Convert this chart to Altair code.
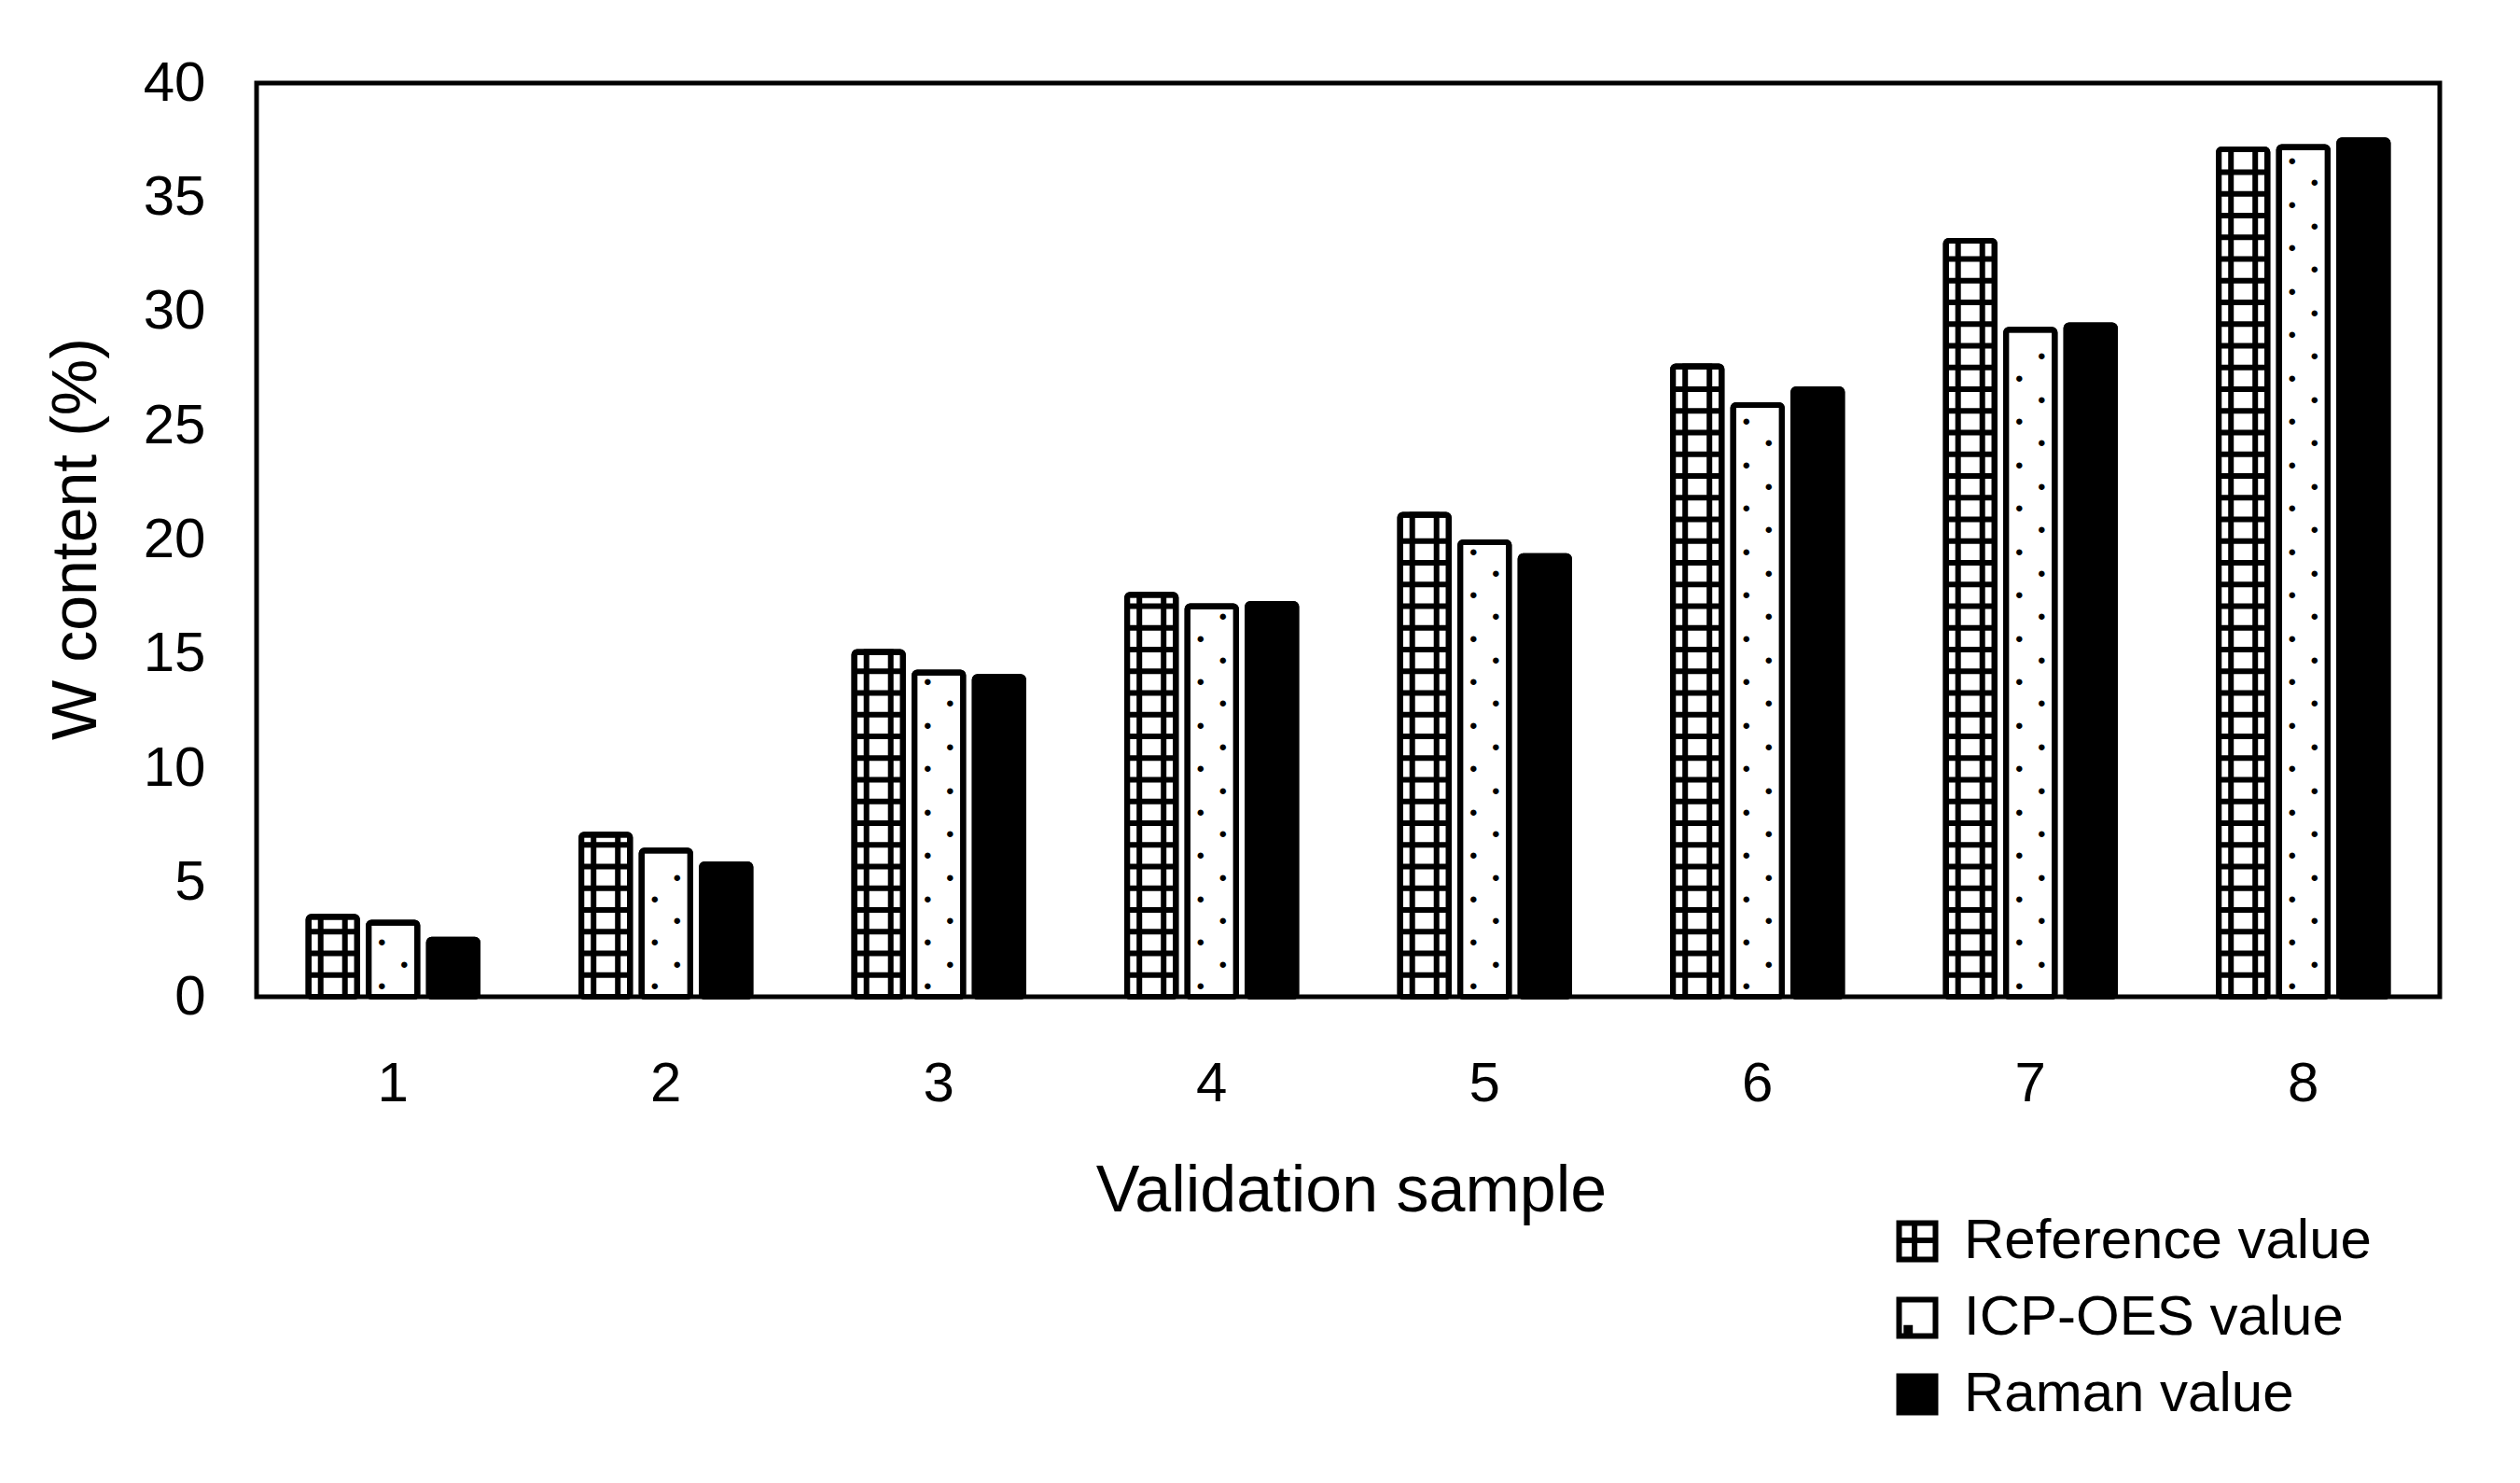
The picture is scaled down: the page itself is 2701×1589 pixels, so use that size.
import altair as alt
import numpy as np
import pandas as pd

samples = ["1", "2", "3", "4", "5", "6", "7", "8"]
series = ["Reference value", "ICP-OES value", "Raman value"]
reference = [3.5, 7.1, 15.1, 17.6, 21.1, 27.6, 33.1, 37.1]
icp_oes = [3.25, 6.4, 14.2, 17.1, 19.9, 25.9, 29.2, 37.2]
raman = [2.5, 5.8, 14.0, 17.2, 19.3, 26.6, 29.4, 37.5]
y_ticks = [0, 5, 10, 15, 20, 25, 30, 35, 40]

rows = []
for s, a, b, c in zip(samples, reference, icp_oes, raman):
    rows.append({"sample": s, "series": series[0], "value": a})
    rows.append({"sample": s, "series": series[1], "value": b})
    rows.append({"sample": s, "series": series[2], "value": c})
df = pd.DataFrame(rows)
ref_df = df[df["series"] == series[0]]

# hatch pattern helpers (decoration only)
grid_rows = []
for s, v in zip(samples, reference):
    for yy in np.arange(0.95, v - 0.3, 0.95):
        grid_rows.append({"sample": s, "series": series[0], "value": float(yy)})
grid_df = pd.DataFrame(grid_rows)

dotL, dotR = [], []
for s, v in zip(samples, icp_oes):
    for k, yy in enumerate(np.arange(0.5, v - 0.3, 0.95)):
        (dotL if k % 2 == 0 else dotR).append({"sample": s, "series": series[1], "value": float(yy)})
dotL_df = pd.DataFrame(dotL)
dotR_df = pd.DataFrame(dotR)

FONT = "Liberation Sans"

X = alt.X(
    "sample:N",
    scale=alt.Scale(domain=samples, paddingInner=0.38, paddingOuter=0.19),
    axis=alt.Axis(
        title="Validation sample", labelAngle=0, ticks=False, domain=False,
        labelPadding=64, labelFontSize=60, labelFont=FONT, labelColor="black",
        titleFontSize=70, titleFont=FONT, titleFontWeight="normal", titleColor="black",
        titleX=1173, titleY=229, titleBaseline="alphabetic", titleAlign="center",
    ),
)
XO = alt.XOffset("series:N", scale=alt.Scale(domain=series, paddingInner=0.19, paddingOuter=0))
Y = alt.Y(
    "value:Q",
    scale=alt.Scale(domain=[0, 40], nice=False),
    axis=alt.Axis(
        title="W content (%)", values=y_ticks, ticks=False, domain=False, grid=False,
        labelPadding=55, labelFontSize=60, labelFont=FONT, labelColor="black",
        titleFontSize=68, titleFont=FONT, titleFontWeight="normal", titleColor="black",
        titleX=-173, titleY=488, titleBaseline="alphabetic", titleAngle=270, titleAlign="center",
    ),
)

fill_scale = alt.Scale(domain=series, range=["white", "white", "black"])
stroke_scale = alt.Scale(domain=series, range=["black", "black", "black"])
shape_paths = [
    "M-1,-1H1V1H-1Z M-0.15,-1V1 M-1,-0.05H1",
    "M-1,-1H1V1H-1Z M-0.6,0.55H-0.4V0.75H-0.6Z",
    "M-1,-1H1V1H-1Z",
]
legend = alt.Legend(
    title=None, orient="none", legendX=1750, legendY=1211,
    labelFont=FONT, labelFontSize=60, labelColor="black", labelOffset=20, labelLimit=2000,
    symbolSize=1521, symbolStrokeWidth=6,
    rowPadding=18, padding=0,
)

bars = alt.Chart(df).mark_bar(stroke="black", strokeWidth=6, cornerRadius=3).encode(
    x=X, xOffset=XO, y=Y,
    fill=alt.Fill("series:N", scale=fill_scale, legend=legend),
)

hlines = alt.Chart(grid_df).mark_tick(color="black", thickness=6, size=50, opacity=1).encode(
    x=X, xOffset=XO, y=Y
)

vlines = alt.Chart(ref_df).mark_bar(
    fill="transparent", stroke="black", strokeWidth=6, width=26
).encode(x=X, xOffset=XO, y=Y)

dots_l = alt.Chart(dotL_df).mark_text(text="●", fontSize=15, dx=-12, color="black", baseline="middle").encode(
    x=X, xOffset=XO, y=Y
)
dots_r = alt.Chart(dotR_df).mark_text(text="●", fontSize=15, dx=12, color="black", baseline="middle").encode(
    x=X, xOffset=XO, y=Y
)

outline = alt.Chart(df).mark_bar(fill="transparent", stroke="black", strokeWidth=6, cornerRadius=3).encode(
    x=X, xOffset=XO, y=Y
)

legend_layer = alt.Chart(df).transform_filter("datum.value < -100").mark_point(
    filled=True, strokeWidth=6, size=1521, opacity=1
).encode(
    x=X, xOffset=XO, y=Y,
    fill=alt.Fill("series:N", scale=fill_scale, legend=legend),
    stroke=alt.Stroke("series:N", scale=stroke_scale, legend=legend),
    shape=alt.Shape("series:N", scale=alt.Scale(domain=series, range=shape_paths), legend=legend),
)

chart = alt.layer(bars, hlines, vlines, dots_l, dots_r, outline, legend_layer).properties(
    width=2340,
    height=979,
    padding={"left": 267, "top": 81, "right": 78, "bottom": 513},
    autosize=alt.AutoSizeParams(type="none"),
    background="white",
).configure_view(stroke="black", strokeWidth=5)

chart.save("out.html", embed_options={"renderer": "svg", "actions": False})
